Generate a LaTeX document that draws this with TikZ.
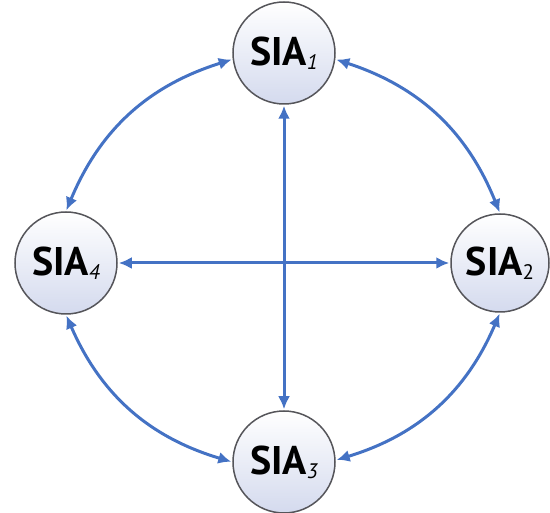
\documentclass[tikz,border=0pt]{standalone}
\usepackage{fontspec}
\setmainfont{PT Sans}
\usetikzlibrary{arrows.meta}
\definecolor{arrblue}{RGB}{68,114,196}
\definecolor{ringgray}{RGB}{85,85,90}
\definecolor{fillbot}{RGB}{212,218,238}
\begin{document}
\begin{tikzpicture}[x=1pt,y=-1pt,
  sia/.style={circle, draw=ringgray, line width=1.5pt, minimum size=102pt, inner sep=0pt,
    top color=white, bottom color=fillbot, font=\fontsize{40}{40}\selectfont\bfseries},
  link/.style={draw=arrblue, line width=3pt, {Latex[length=13pt,width=12pt]}-{Latex[length=13pt,width=12pt]}, shorten <=1pt, shorten >=1pt}]
\useasboundingbox (0,0) rectangle (550,513);
\newcommand{\subn}[1]{\raisebox{-4pt}{\fontsize{21}{21}\selectfont\mdseries #1}}
\node[sia] (s1) at (284,53) {SIA\subn{\itshape 1}};
\node[sia, minimum size=98pt] (s2) at (500,263) {SIA\subn{2}};
\node[sia] (s3) at (284,462) {SIA\subn{\itshape 3}};
\node[sia] (s4) at (66,263) {SIA\subn{\itshape 4}};
\draw[link] (s1.187) to[bend right=25] (s4.90);
\draw[link] (s1.353) to[bend left=25] (s2.90);
\draw[link] (s2.270) to[bend left=25] (s3.2);
\draw[link] (s4.270) to[bend right=25] (s3.180);
\draw[link] (s1.south) -- (s3.north);
\draw[link] (s4.east) -- (s2.west);
\end{tikzpicture}
\end{document}
